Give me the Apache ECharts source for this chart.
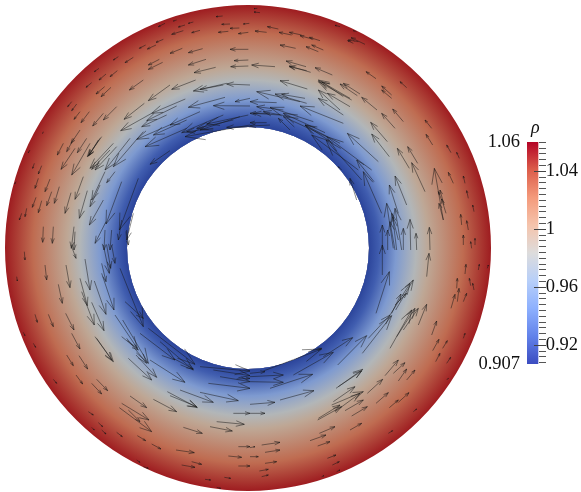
<!DOCTYPE html>
<html><head><meta charset="utf-8">
<style>html,body{margin:0;padding:0;background:#fff}#c{width:581px;height:492px}</style>
<script src="https://cdn.jsdelivr.net/npm/echarts@6/dist/echarts.min.js"></script>
</head><body><div id="c"></div>
<script>
const radii=[363,393,444,504,543,645,729];
const rhoProfile=[0.907,0.920,0.945,0.976,0.995,1.029,1.06];
const fieldPalette=['#2c459b','#4a69b8','#7f9bd0','#a8b4c8','#b9b7ae','#c29c84','#c47a5c','#b8543f','#9e1c20'];
const barPalette=['#3b4cc0','#6282ea','#8db0fe','#b7cff9','#dddcdc','#f5c4ac','#f49a7b','#dc5d4a','#b40426'];
const rhoMin=0.907, rhoMax=1.06;
const majorTicks=[0.92,0.96,1,1.04];
const minorTicks=[0.908,0.912,0.916,0.924,0.928,0.932,0.936,0.94,0.944,0.948,0.952,0.956,0.964,0.968,0.972,0.976,0.98,0.984,0.988,0.992,0.996,1.004,1.008,1.012,1.016,1.02,1.024,1.028,1.032,1.036,1.044,1.048,1.052,1.056,1.06];
const rangeLabels=[0.907,1.06];
const arrowsNW=[[668,48,648,50],[690,72,665,73],[718,84,690,85],[748,70,730,72],[685,94,655,97],[745,97,715,101],[580,66,565,70],[555,75,535,81],[530,60,520,63],[495,70,475,80],[550,92,515,103],[600,91,575,98],[490,118,468,127],[437,135,418,145],[468,135,442,147],[547,145,510,160],[608,146,565,158],[745,148,690,148],[355,170,340,180],[400,172,375,188],[478,178,445,195],[488,187,445,208],[618,178,565,195],[647,202,582,218],[745,180,702,182],[745,198,692,200],[297,205,283,215],[318,222,297,240],[352,212,330,230],[275,248,258,262],[314,260,288,282],[333,262,303,290],[430,240,388,270],[587,240,515,268],[680,250,580,273],[750,255,680,252],[670,255,600,268],[510,255,445,302],[675,292,565,322],[750,295,705,305],[750,318,640,317],[556,297,455,340],[433,310,372,358],[530,318,440,362],[500,345,425,380],[600,335,510,375],[560,360,460,405],[455,340,362,392],[520,370,410,418],[560,385,435,440],[670,345,545,398],[745,345,620,372],[750,375,555,410],[640,385,560,395],[750,380,680,382],[700,360,590,385],[720,350,600,390],[510,452,450,493],[305,410,262,470],[300,415,265,468],[295,420,268,465],[340,430,270,505],[350,440,285,510],[330,450,275,508],[390,415,315,510],[430,395,340,500],[240,390,213,430],[190,430,172,465],[222,415,200,455],[260,415,232,458],[225,445,183,508],[270,430,215,525],[350,320,310,360],[310,340,278,378],[268,335,243,368],[240,335,222,358],[230,312,215,332],[215,305,203,320],[103,490,98,505],[125,497,115,522],[115,535,105,565],[150,537,135,575],[178,560,163,610],[108,592,97,622],[125,602,115,638],[155,575,140,617],[80,625,75,650],[65,640,58,660],[48,545,44,552],[90,450,85,458],[213,578,195,640],[250,530,225,598],[262,572,238,655],[315,515,275,600],[345,515,320,548],[300,555,270,620],[365,545,318,672],[415,535,358,690],[310,600,268,675],[318,665,285,730],[400,640,380,720],[130,680,128,727],[160,680,157,730],[222,680,214,745],[225,695,222,750],[315,690,312,750],[335,690,330,750],[365,660,355,720],[380,690,385,735],[130,395,128,400]];
const arrowsNE=[[30,38,12,36],[22,25,12,26],[50,97,15,93],[85,87,52,80],[125,105,87,97],[155,105,118,97],[190,118,150,107],[210,122,178,112],[345,133,303,113],[325,125,295,120],[310,130,293,122],[270,80,255,76],[320,95,310,92],[137,145,90,135],[205,155,168,140],[220,150,185,135],[75,200,5,195],[168,200,108,183],[182,217,118,198],[170,212,118,200],[247,225,195,203],[378,236,348,215],[470,263,450,245],[172,267,90,242],[330,282,280,250],[322,287,270,252],[300,295,205,240],[305,300,205,245],[280,290,215,245],[300,320,232,280],[280,345,205,295],[270,330,205,270],[381,330,335,292],[150,305,20,275],[170,310,75,282],[165,295,95,283],[425,285,395,258],[425,295,395,270],[460,365,428,327],[435,385,395,340],[412,425,362,367],[418,470,365,402],[545,385,525,360],[548,435,528,403],[603,458,590,435],[628,475,620,457],[478,505,442,445],[503,490,473,440],[525,575,485,488],[470,615,435,528],[445,640,418,555],[372,545,320,480],[385,485,292,400],[365,510,230,410],[270,430,165,375],[335,540,228,420],[325,510,185,405],[280,370,150,318],[225,398,100,340],[230,410,100,350],[190,365,60,322],[250,430,165,375],[120,390,85,355],[395,640,340,515],[320,600,300,535],[275,510,265,500],[580,660,553,505],[575,600,565,575],[582,615,570,570],[610,550,595,517],[645,550,640,528],[655,595,650,572],[672,635,668,615],[580,660,567,610],[588,640,575,597],[635,675,632,643],[655,690,650,662],[640,735,640,705],[675,735,675,715],[665,745,662,725],[397,750,397,675],[413,750,413,690],[430,745,410,610],[455,750,435,625],[435,750,420,665],[460,750,460,685],[482,750,480,658],[500,750,498,700],[540,750,538,682],[440,750,428,650],[445,720,425,640],[60,340,0,340],[80,308,0,305],[50,368,0,368],[90,345,10,340],[120,350,40,335],[100,330,20,320],[60,375,0,378]];
const arrowsSW=[[73,20,75,45],[50,95,52,108],[135,60,140,105],[198,60,210,128],[213,0,228,40],[255,42,270,135],[175,118,187,175],[240,100,262,182],[283,108,318,208],[275,172,312,257],[245,140,283,240],[197,205,222,255],[105,208,112,232],[145,208,160,245],[215,265,240,312],[305,55,318,110],[310,0,328,85],[320,0,332,70],[335,0,345,55],[305,85,342,195],[360,70,430,245],[345,210,412,310],[285,275,340,350],[290,280,335,345],[375,170,430,220],[368,225,445,355],[365,275,415,315],[380,280,440,355],[445,250,585,358],[420,265,525,345],[385,340,455,405],[408,330,470,397],[450,345,555,412],[480,290,580,375],[520,340,580,372],[200,330,220,362],[237,332,263,372],[228,390,248,417],[160,403,170,415],[70,262,75,272],[100,295,107,307],[290,403,323,437],[275,415,305,447],[390,453,440,488],[460,463,530,500],[365,475,447,525],[358,488,455,560],[385,495,420,530],[502,440,592,488],[510,452,590,485],[540,435,640,472],[600,442,715,467],[625,415,750,430],[600,365,750,378],[640,375,750,392],[710,402,750,400],[660,395,750,410],[700,505,750,505],[650,530,733,538],[630,545,697,558],[550,547,607,565],[265,500,280,510],[295,533,308,545],[275,547,283,555],[305,555,318,567],[350,562,367,575],[412,572,437,587],[455,597,483,612],[528,615,583,623],[575,650,605,658],[545,660,585,667],[685,633,725,637],[715,663,750,663],[715,605,750,605],[410,645,420,652],[430,665,445,670],[615,703,632,705],[673,697,692,700],[650,727,662,730]];
const arrowsSE=[[0,505,45,505],[0,478,75,472],[0,385,45,380],[90,465,192,437],[60,430,188,388],[0,410,100,412],[0,395,100,390],[130,390,250,322],[40,378,215,312],[175,320,215,310],[263,360,350,272],[220,335,308,278],[337,325,425,212],[355,280,420,210],[378,205,418,80],[397,90,397,0],[420,210,480,115],[437,195,490,105],[435,180,470,145],[420,310,485,195],[440,275,495,190],[460,255,505,190],[505,240,530,178],[425,205,453,147],[530,95,537,25],[545,270,560,228],[548,317,567,283],[578,310,592,287],[557,350,570,325],[590,355,602,337],[603,190,615,148],[622,170,627,130],[620,130,622,100],[640,170,650,145],[645,87,648,58],[685,75,688,58],[662,122,658,100],[672,135,668,115],[640,280,645,265],[712,70,715,60],[405,392,445,345],[445,408,470,372],[470,405,495,375],[430,385,465,353],[352,445,398,403],[378,475,415,443],[418,488,445,465],[445,472,477,443],[258,430,338,373],[265,425,335,378],[250,470,315,425],[245,480,340,440],[203,525,275,485],[205,520,270,480],[285,497,340,465],[305,513,352,485],[255,500,330,445],[490,500,500,492],[415,565,428,557],[300,555,335,535],[208,565,255,545],[180,587,228,570],[203,603,240,590],[232,640,258,630],[247,660,268,650],[260,680,270,675],[35,600,90,592],[45,622,90,615],[45,655,80,650],[28,678,55,673],[35,695,55,690],[0,608,15,605],[0,635,25,635],[215,695,222,692],[590,405,595,400]];
const panelOrigins={NW:[0,0],NE:[750,0],SW:[0,735],SE:[750,735]};
const shift=(list,o)=>list.map(a=>[a[0]+o[0],a[1]+o[1],a[2]+o[0],a[3]+o[1]]);
const arrowData=[...shift(arrowsNW,panelOrigins.NW),...shift(arrowsNE,panelOrigins.NE),...shift(arrowsSW,panelOrigins.SW),...shift(arrowsSE,panelOrigins.SE)];
const bandData=radii.slice(1).map((r,i)=>[radii[i],r,rhoProfile[i],rhoProfile[i+1]]).reverse();
const centre=[744,744];
const font='"Liberation Serif","Times New Roman",serif';
const col=(v,p)=>echarts.color.lerp((v-rhoMin)/(rhoMax-rhoMin),p);
const chart=echarts.init(document.getElementById('c'),null,{renderer:'canvas'});
const hiddenAxis=(g,min,max,inv)=>({type:'value',gridIndex:g,min,max,inverse:!!inv,show:false});
const barRect={left:527,top:142,width:19,height:222};
const tickRect={left:546,top:142,width:1,height:222};
const barAxisBase=(g,pos)=>({type:'value',gridIndex:g,min:rhoMin,max:rhoMax,position:pos,axisLine:{show:false},axisTick:{show:false},splitLine:{show:false},minorTick:{show:false}});
const tickAxis=(g,len,vals,color)=>({...barAxisBase(g,'left'),z:6,axisLabel:{show:false},axisTick:{show:true,inside:false,length:len,customValues:vals,lineStyle:{color,width:1}}});
chart.setOption({
  animation:false,backgroundColor:'#fff',
  title:{text:'ρ',left:526,top:114,textStyle:{fontFamily:font,fontStyle:'italic',fontWeight:'normal',fontSize:18,color:'#111'}},
  grid:[{left:5,top:5,width:486,height:486},barRect,barRect,tickRect,tickRect],
  xAxis:[hiddenAxis(0,15,1473),hiddenAxis(1,0,1),hiddenAxis(2,0,1),hiddenAxis(3,0,1),hiddenAxis(4,0,1)],
  yAxis:[hiddenAxis(0,15,1473,true),
    {...barAxisBase(1,'right'),axisLabel:{show:true,customValues:majorTicks,margin:2,fontFamily:font,fontSize:18.5,color:'#111',formatter:v=>String(+v.toFixed(2))}},
    {...barAxisBase(2,'left'),axisLabel:{show:true,customValues:rangeLabels,margin:7,fontFamily:font,fontSize:18.5,color:'#111',padding:[6,0,0,0],formatter:v=>String(+v.toFixed(3))}},
    tickAxis(3,12,majorTicks,'#444'),
    tickAxis(4,7,minorTicks,'#555')
  ],
  series:[
    {type:'custom',xAxisIndex:0,yAxisIndex:0,silent:true,clip:false,data:bandData,
     renderItem:(p,api)=>{
       const c=api.coord(centre), ro=api.size([api.value(1),0])[0], ri=api.size([api.value(0),0])[0], hole=api.size([radii[0],0])[0];
       const ci=col(api.value(2),fieldPalette), co=col(api.value(3),fieldPalette);
       return {type:'ring',shape:{cx:c[0],cy:c[1],r:ro,r0:hole},
         style:{fill:new echarts.graphic.RadialGradient(c[0],c[1],ro,[{offset:ri/ro,color:ci},{offset:1,color:co}],true)}};
     }},
    {type:'custom',xAxisIndex:0,yAxisIndex:0,silent:true,clip:false,data:arrowData,z:5,
     renderItem:(p,api)=>{
       const a=api.coord([api.value(0),api.value(1)]), b=api.coord([api.value(2),api.value(3)]);
       const dx=b[0]-a[0],dy=b[1]-a[1];
       const bx=b[0]-0.3*dx,by=b[1]-0.3*dy,nx=-dy*0.1,ny=dx*0.1;
       const st={stroke:'rgba(20,20,20,0.62)',lineWidth:0.8,fill:null};
       return {type:'group',children:[
         {type:'polyline',shape:{points:[a,b]},style:st},
         {type:'polyline',shape:{points:[[bx+nx,by+ny],b,[bx-nx,by-ny]]},style:st}]};
     }},
    {type:'custom',xAxisIndex:1,yAxisIndex:1,silent:true,clip:false,data:[[0.68,rhoMin,rhoMax]],z:1,
     renderItem:(p,api)=>{
       const a=api.coord([0,api.value(2)]), b=api.coord([api.value(0),api.value(1)]);
       return {type:'rect',shape:{x:a[0],y:a[1],width:b[0]-a[0],height:b[1]-a[1]},
         style:{fill:new echarts.graphic.LinearGradient(0,1,0,0,barPalette.map((c,i)=>({offset:i/(barPalette.length-1),color:c})))}};
     }}
  ]
});
</script></body></html>
